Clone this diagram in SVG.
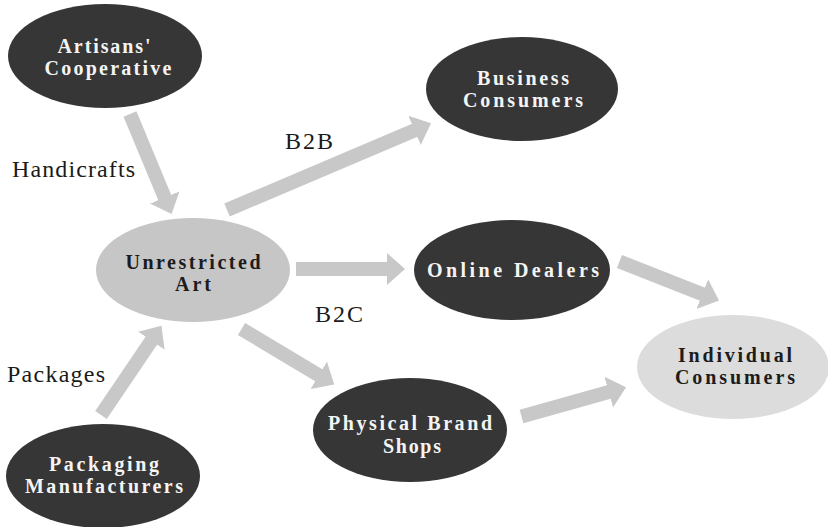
<svg xmlns="http://www.w3.org/2000/svg" width="828" height="527" viewBox="0 0 828 527">
  <style>
    .dark { fill: #363636; }
    .mid { fill: #c6c6c6; }
    .light { fill: #dcdcdc; }
    .name { font-family: "Liberation Serif", "Times New Roman", serif; font-weight: bold; font-size: 20px; text-anchor: middle; }
    .on-dark { fill: #f4f4f4; }
    .on-light { fill: #1c1c1c; }
    .label { font-family: "Liberation Serif", "Times New Roman", serif; font-size: 24px; fill: #1a1a1a; }
    .flow { stroke: #c8c8c8; stroke-width: 14; fill: none; marker-end: url(#head); }
  </style>
  <defs>
    <marker id="head" markerUnits="userSpaceOnUse" markerWidth="20" markerHeight="34" viewBox="0 -17 20 34" refX="1" refY="0" orient="auto">
      <path d="M0,-16 L18,0 L0,16 Z" fill="#c8c8c8"/>
    </marker>
  </defs>

  <!-- connectors -->
  <g id="connectors">
    <line class="flow" x1="130" y1="114" x2="165.1" y2="198.4"/>
    <line class="flow" x1="227" y1="210" x2="415.4" y2="130"/>
    <line class="flow" x1="296" y1="269" x2="388" y2="269"/>
    <line class="flow" x1="241.5" y1="329" x2="319.6" y2="375.7"/>
    <line class="flow" x1="101" y1="415" x2="151.9" y2="339.9"/>
    <line class="flow" x1="619.5" y1="261.5" x2="703.2" y2="294.4"/>
    <line class="flow" x1="521.5" y1="416.5" x2="609.7" y2="391.8"/>
  </g>

  <!-- connector labels -->
  <g id="labels">
    <text class="label" x="12" y="177" textLength="123" lengthAdjust="spacing">Handicrafts</text>
    <text class="label" x="285" y="149" textLength="48" lengthAdjust="spacing">B2B</text>
    <text class="label" x="315" y="322" textLength="48" lengthAdjust="spacing">B2C</text>
    <text class="label" x="7" y="382" textLength="98" lengthAdjust="spacing">Packages</text>
  </g>

  <!-- nodes -->
  <g id="artisans-cooperative">
    <ellipse class="dark" cx="105" cy="56" rx="97" ry="52"/>
    <text class="name on-dark" x="104" y="53" textLength="93" lengthAdjust="spacing">Artisans'</text>
    <text class="name on-dark" x="108" y="75" textLength="127" lengthAdjust="spacing">Cooperative</text>
  </g>

  <g id="business-consumers">
    <ellipse class="dark" cx="522" cy="89" rx="96" ry="52"/>
    <text class="name on-dark" x="523" y="85" textLength="92" lengthAdjust="spacing">Business</text>
    <text class="name on-dark" x="523" y="107" textLength="120" lengthAdjust="spacing">Consumers</text>
  </g>

  <g id="unrestricted-art">
    <ellipse class="mid" cx="193" cy="270" rx="97" ry="52"/>
    <text class="name on-light" x="193" y="269" textLength="135" lengthAdjust="spacing">Unrestricted</text>
    <text class="name on-light" x="193" y="291" textLength="36" lengthAdjust="spacing">Art</text>
  </g>

  <g id="online-dealers">
    <ellipse class="dark" cx="512" cy="270" rx="98" ry="50"/>
    <text class="name on-dark" x="513" y="277" textLength="172" lengthAdjust="spacing">Online Dealers</text>
  </g>

  <g id="packaging-manufacturers">
    <ellipse class="dark" cx="103" cy="476" rx="97" ry="52"/>
    <text class="name on-dark" x="104" y="471" textLength="110" lengthAdjust="spacing">Packaging</text>
    <text class="name on-dark" x="104" y="493" textLength="158" lengthAdjust="spacing">Manufacturers</text>
  </g>

  <g id="physical-brand-shops">
    <ellipse class="dark" cx="410" cy="430" rx="97" ry="52"/>
    <text class="name on-dark" x="410" y="430" textLength="164" lengthAdjust="spacing">Physical Brand</text>
    <text class="name on-dark" x="412" y="453" textLength="58" lengthAdjust="spacing">Shops</text>
  </g>

  <g id="individual-consumers">
    <ellipse class="light" cx="733" cy="367" rx="96" ry="52"/>
    <text class="name on-light" x="735" y="362" textLength="114" lengthAdjust="spacing">Individual</text>
    <text class="name on-light" x="735" y="384" textLength="120" lengthAdjust="spacing">Consumers</text>
  </g>
</svg>
